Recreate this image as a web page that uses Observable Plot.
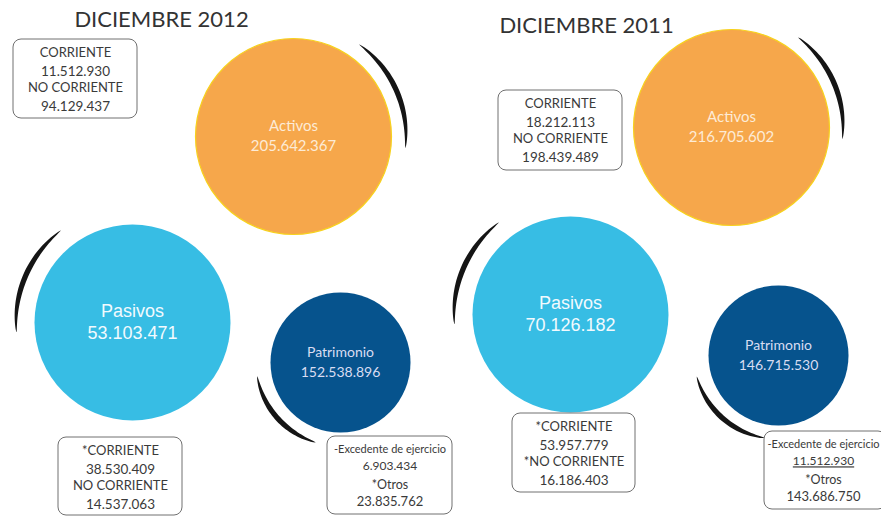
<!DOCTYPE html>
<html>
<head>
<meta charset="utf-8">
<script src="https://cdn.jsdelivr.net/npm/d3@7"></script>
<script src="https://cdn.jsdelivr.net/npm/@observablehq/plot@0.6"></script>
<style>
  html, body { margin: 0; padding: 0; background: #fff; }
  #chart svg { display: block; }
</style>
</head>
<body>
<div id="chart"></div>
<script>
// ---------- DATA ----------
const panelTitles = ["DICIEMBRE 2012", "DICIEMBRE 2011"];
const bubbleNames = ["Activos", "Pasivos", "Patrimonio"];
const bubbleValues2012 = [205642367, 53103471, 152538896];
const bubbleValues2011 = [216705602, 70126182, 146715530];

const activosLabels = [["CORRIENTE", "NO CORRIENTE"], ["CORRIENTE", "NO CORRIENTE"]];
const activosCorriente = [11512930, 18212113];
const activosNoCorriente = [94129437, 198439489];

const pasivosLabels = [["*CORRIENTE", "NO CORRIENTE"], ["*CORRIENTE", "*NO CORRIENTE"]];
const pasivosCorriente = [38530409, 53957779];
const pasivosNoCorriente = [14537063, 16186403];

const patrimonioLabels = [["-Excedente de ejercicio", "*Otros"], ["-Excedente de ejercicio", "*Otros"]];
const patrimonioExcedente = [6903434, 11512930];
const patrimonioOtros = [23835762, 143686750];

// ---------- LAYOUT (pixels) ----------
const W = 881, H = 516;
const titleLayout = [{x: 161, y: 19}, {x: 586, y: 25}];
// circle centres/radii per panel: [Activos, Pasivos, Patrimonio]
const circleLayout = [
  [{cx: 293, cy: 136, r: 98}, {cx: 132, cy: 322, r: 98}, {cx: 340, cy: 362, r: 70}],
  [{cx: 731, cy: 127, r: 98}, {cx: 570, cy: 314, r: 98}, {cx: 778, cy: 355, r: 70}]
];
// decorative arcs: radius and start/end angle (degrees, screen coords)
const arcLayout = [
  [{R: 113, a0: -54, a1: 6}, {R: 116, a0: 175, a1: 232}, {R: 84, a0: 107, a1: 170}],
  [{R: 112, a0: -53, a1: 6}, {R: 116, a0: 175, a1: 232}, {R: 84, a0: 99, a1: 165}]
];
// boxes: [Activos, Pasivos, Patrimonio]
const boxLayout = [
  [{x1: 13, x2: 137, y1: 39, y2: 118}, {x1: 58, x2: 182, y1: 437, y2: 515}, {x1: 327, x2: 452, y1: 436, y2: 514}],
  [{x1: 498, x2: 622, y1: 90, y2: 170}, {x1: 512, x2: 635, y1: 413, y2: 492}, {x1: 764, x2: 886, y1: 431, y2: 509}]
];
const circleColors = ["#F6A74B", "#37BDE4", "#06538D"];
const circleTextColors = ["#FDEBD6", "#F2FAFE", "#D9DDF2"];

// ---------- BUILD ----------
const fmt = d3.formatLocale({decimal: ",", thousands: ".", grouping: [3], currency: ["", ""]}).format(",d");
const valuesByPanel = [bubbleValues2012, bubbleValues2011];

const circles = [], circleText = [], arcPts = [], boxes = [], boxText = [], titles = [];
panelTitles.forEach((t, p) => {
  titles.push({text: t, ...titleLayout[p]});
  bubbleNames.forEach((name, i) => {
    const c = circleLayout[p][i];
    circles.push({...c, fill: circleColors[i], stroke: i === 0 ? "#F7D21E" : "none"});
    const gap = i === 1 ? 11 : 10;
    const size = i === 1 ? 18 : (i === 0 ? 15 : 14);
    circleText.push({x: c.cx, y: c.cy - gap, text: name, color: circleTextColors[i], kind: i, size});
    circleText.push({x: c.cx, y: c.cy + gap, text: fmt(valuesByPanel[p][i]), color: circleTextColors[i], kind: i, size});
    const a = arcLayout[p][i];
    const n = 40;
    for (let k = 0; k <= n; k++) {
      const t = k / n;
      const ang = (a.a0 + (a.a1 - a.a0) * t) * Math.PI / 180;
      const th = 5.0 * Math.pow(Math.sin(Math.PI * t), 0.7) + 0.3;
      const ri = a.R - th / 2, ro = a.R + th / 2;
      arcPts.push({id: p + "-" + i, k,
        xi: c.cx + ri * Math.cos(ang), yi: c.cy + ri * Math.sin(ang),
        xo: c.cx + ro * Math.cos(ang), yo: c.cy + ro * Math.sin(ang)});
    }
  });
  const lines = [
    [activosLabels[p][0], fmt(activosCorriente[p]), activosLabels[p][1], fmt(activosNoCorriente[p])],
    [pasivosLabels[p][0], fmt(pasivosCorriente[p]), pasivosLabels[p][1], fmt(pasivosNoCorriente[p])],
    [patrimonioLabels[p][0], fmt(patrimonioExcedente[p]), patrimonioLabels[p][1], fmt(patrimonioOtros[p])]
  ];
  lines.forEach((ls, b) => {
    const bx = boxLayout[p][b];
    boxes.push(bx);
    const offs = b === 2 ? [13, 30, 48, 65] : [13, 32, 48, 67];
    const sizes = b === 2 ? [11, 12, 12.5, 13] : [13, 13.5, 13, 13.5];
    const cxText = b === 2 && p === 1 ? 823 : (bx.x1 + bx.x2) / 2;
    ls.forEach((txt, j) => {
      boxText.push({x: cxText, y: bx.y1 + offs[j], text: txt, size: sizes[j],
        underline: b === 2 && p === 1 && j === 1});
    });
  });
});

const chart = Plot.plot({
  width: W, height: H, margin: 0,
  x: {domain: [0, W], range: [0, W], axis: null},
  y: {domain: [0, H], range: [0, H], axis: null},
  r: {type: "identity"},
  color: {type: "identity"},
  style: {background: "#fff"},
  marks: [
    Plot.area(arcPts, {x1: "xi", y1: "yi", x2: "xo", y2: "yo", z: "id", fill: "#151515", curve: "linear"}),
    Plot.dot(circles, {x: "cx", y: "cy", r: "r", fill: "fill", stroke: "stroke", strokeWidth: 1.2}),
    Plot.text(circleText.filter(d => d.kind !== 1), {x: "x", y: "y", text: "text", fill: "color", fontSize: "size", fontFamily: "Lato, sans-serif"}),
    Plot.text(circleText.filter(d => d.kind === 1), {x: "x", y: "y", text: "text", fill: "color", fontSize: "size", fontFamily: "'Liberation Sans', Arial, sans-serif"}),
    Plot.rect(boxes, {x1: "x1", x2: "x2", y1: "y1", y2: "y2", rx: 8, fill: "white", stroke: "#707070", strokeWidth: 1}),
    Plot.text(boxText.filter(d => !d.underline), {x: "x", y: "y", text: "text", fill: "#3a3a3a", fontSize: "size", fontFamily: "Lato, sans-serif"}),
    Plot.text(boxText.filter(d => d.underline), {x: "x", y: "y", text: "text", fill: "#3b3b3b", fontSize: "size", fontFamily: "Lato, sans-serif"}),
    Plot.text(titles, {x: "x", y: "y", text: "text", fill: "#333", fontSize: 22, fontFamily: "Lato, sans-serif"})
  ]
});
d3.select(chart).selectAll('g[fill="#3b3b3b"] text, text[fill="#3b3b3b"]').style("text-decoration", "underline");
document.getElementById("chart").appendChild(chart);
</script>
</body>
</html>
